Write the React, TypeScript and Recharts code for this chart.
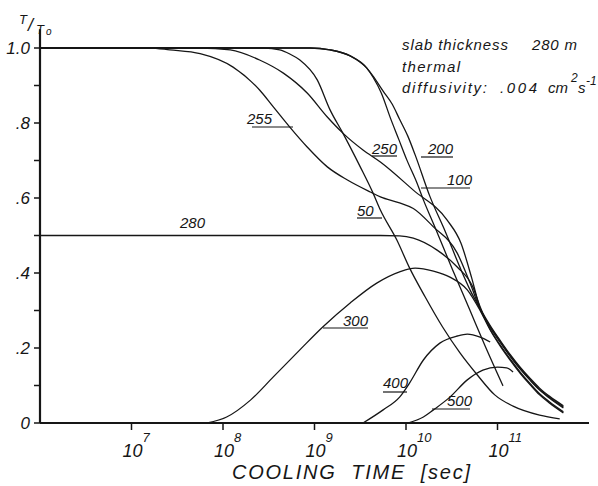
import { LineChart, Line, XAxis, YAxis } from "recharts"

const logT50 = [6, 8.45, 8.62, 8.73, 8.84, 9.03, 9.17, 9.31, 9.5, 9.64, 9.72, 9.9, 10.04, 10.21, 10.4, 10.59, 10.78, 10.97, 11.17, 11.46, 11.68]
const temp50 = [1, 1, 0.995, 0.984, 0.968, 0.915, 0.835, 0.773, 0.683, 0.613, 0.568, 0.488, 0.413, 0.336, 0.256, 0.187, 0.128, 0.075, 0.045, 0.021, 0.011]

const logT100 = [6, 8.95, 9.17, 9.39, 9.57, 9.64, 9.73, 9.83, 9.92, 10.01, 10.12, 10.19, 10.32, 10.51, 10.7, 10.86, 11.06]
const temp100 = [1, 1, 0.995, 0.979, 0.947, 0.922, 0.88, 0.813, 0.757, 0.701, 0.64, 0.595, 0.52, 0.408, 0.3, 0.208, 0.099]

const logT200 = [6, 8.95, 9.17, 9.39, 9.57, 9.64, 9.75, 9.85, 9.93, 10.02, 10.1, 10.26, 10.43, 10.59, 10.7, 10.81, 10.92, 11.03, 11.14, 11.25, 11.36, 11.46, 11.57, 11.72]
const temp200 = [1, 1, 0.995, 0.979, 0.947, 0.925, 0.885, 0.85, 0.81, 0.765, 0.715, 0.605, 0.51, 0.415, 0.355, 0.305, 0.26, 0.22, 0.182, 0.148, 0.118, 0.093, 0.071, 0.046]

const logT250 = [6, 7.75, 8.08, 8.4, 8.66, 8.92, 9.14, 9.31, 9.53, 9.72, 10.08, 10.45, 10.6, 10.72, 10.81, 10.92, 11.03, 11.14, 11.25, 11.36, 11.46, 11.57, 11.72]
const temp250 = [1, 1, 0.995, 0.968, 0.933, 0.88, 0.816, 0.773, 0.728, 0.696, 0.621, 0.541, 0.48, 0.385, 0.305, 0.257, 0.217, 0.179, 0.145, 0.115, 0.09, 0.068, 0.043]

const logT255 = [6, 7.2, 7.42, 7.75, 8.11, 8.4, 8.55, 8.73, 8.92, 9.14, 9.36, 9.61, 9.72, 9.93, 10.08, 10.3, 10.56, 10.7, 10.81, 10.92, 11.03, 11.14, 11.25, 11.36, 11.46, 11.57, 11.72]
const temp255 = [1, 1, 0.995, 0.985, 0.949, 0.888, 0.843, 0.789, 0.736, 0.683, 0.648, 0.616, 0.603, 0.587, 0.572, 0.523, 0.453, 0.373, 0.303, 0.255, 0.215, 0.177, 0.143, 0.113, 0.088, 0.066, 0.04]

const logT280 = [6, 9.72, 9.93, 10.08, 10.34, 10.56, 10.73, 10.81, 10.92, 11.03, 11.14, 11.25, 11.36, 11.46, 11.57, 11.72]
const temp280 = [0.5, 0.5, 0.499, 0.493, 0.461, 0.416, 0.363, 0.31, 0.25, 0.208, 0.17, 0.135, 0.104, 0.078, 0.056, 0.03]

const logT300 = [7.83, 8.04, 8.3, 8.55, 8.84, 9.09, 9.39, 9.68, 9.93, 10.1, 10.3, 10.48, 10.67, 10.81, 10.92, 11.03, 11.14, 11.25, 11.36, 11.46, 11.57, 11.72]
const temp300 = [0, 0.016, 0.061, 0.123, 0.195, 0.256, 0.32, 0.373, 0.403, 0.413, 0.405, 0.389, 0.355, 0.3, 0.248, 0.205, 0.167, 0.132, 0.101, 0.075, 0.053, 0.027]

const logT400 = [9.53, 9.75, 9.93, 10.04, 10.19, 10.37, 10.56, 10.67, 10.81, 10.92]
const temp400 = [0, 0.035, 0.069, 0.107, 0.168, 0.213, 0.232, 0.237, 0.229, 0.216]

const logT500 = [10.02, 10.19, 10.3, 10.48, 10.67, 10.84, 11.0, 11.1, 11.17]
const temp500 = [0, 0.016, 0.035, 0.069, 0.115, 0.141, 0.149, 0.147, 0.136]

const depths = ["50", "100", "200", "250", "255", "280", "300", "400", "500"]
const times = [logT50, logT100, logT200, logT250, logT255, logT280, logT300, logT400, logT500]
const temps = [temp50, temp100, temp200, temp250, temp255, temp280, temp300, temp400, temp500]

const xTicks = [7, 8, 9, 10, 11]
const yTicks = [0, 0.1, 0.2, 0.3, 0.4, 0.5, 0.6, 0.7, 0.8, 0.9, 1.0]
const yLabels: Record<number, string> = { 0: "0", 2: ".2", 4: ".4", 6: ".6", 8: ".8", 10: "1.0" }

const ink = "#161616"
const font = "'Liberation Sans', Arial, sans-serif"

const series = depths.map((d, i) => ({
  name: d,
  data: times[i].map((x, j) => ({ x, y: temps[i][j] })),
}))

function YTick(props: any) {
  const label = yLabels[Math.round(props.payload.value * 10)]
  if (!label) return <g />
  return (
    <text x={props.x - 2} y={props.y} dy={6} textAnchor="end" fontFamily={font} fontStyle="italic" fontSize={17} fill={ink}>
      {label}
    </text>
  )
}

function XTick(props: any) {
  return (
    <text x={props.x - 9} y={props.y} dy={25} fontFamily={font} fontStyle="italic" fill={ink}>
      <tspan fontSize={18}>10</tspan>
      <tspan fontSize={13} dy={-15}>{props.payload.value}</tspan>
    </text>
  )
}

// curve labels: text, text x, baseline, underline x1, x2, y
const curveLabels: [string, number, number, number, number, number][] = [
  ["255", 247, 124, 252, 293, 127],
  ["280", 180, 228, 0, 0, 0],
  ["250", 372, 154, 372, 397, 156],
  ["200", 428, 154, 421, 453, 157],
  ["100", 447, 185, 421, 470, 188],
  ["50", 357, 216, 357, 382, 218],
  ["300", 343, 326, 323, 368, 328],
  ["400", 383, 388, 383, 407, 392],
  ["500", 447, 406, 432, 470, 409],
]

function Overlay() {
  const t = { fontFamily: font, fontStyle: "italic" as const, fill: ink }
  return (
    <svg width={598} height={486} style={{ position: "absolute", left: 0, top: 0, pointerEvents: "none" }}>
      <text x={19} y={24} fontSize={13} {...t}>T</text>
      <text x={28} y={31} fontSize={18} {...t}>/</text>
      <text x={36} y={34} fontSize={13} {...t}>T</text>
      <text x={46} y={35} fontSize={10} {...t}>o</text>

      <text x={402} y={50} fontSize={15} textLength={106} lengthAdjust="spacing" {...t}>slab thickness</text>
      <text x={532} y={50} fontSize={15} textLength={45} lengthAdjust="spacing" {...t}>280 m</text>
      <text x={402} y={72} fontSize={15} textLength={58} lengthAdjust="spacing" {...t}>thermal</text>
      <text x={402} y={93} fontSize={15} textLength={85} lengthAdjust="spacing" {...t}>diffusivity:</text>
      <text x={500} y={93} fontSize={15} textLength={37} lengthAdjust="spacing" {...t}>.004</text>
      <text x={548} y={93} fontSize={15} {...t}>cm</text>
      <text x={571} y={82} fontSize={12} {...t}>2</text>
      <text x={578} y={93} fontSize={15} {...t}>s</text>
      <text x={586} y={85} fontSize={12} {...t}>-1</text>

      {curveLabels.map(([s, tx, ty, x1, x2, ly]) => (
        <g key={s}>
          <text x={tx} y={ty} fontSize={15} {...t}>{s}</text>
          {x2 > 0 && <line x1={x1} x2={x2} y1={ly} y2={ly} stroke={ink} strokeWidth={1.2} />}
        </g>
      ))}

      <text x={232} y={479} fontSize={20} textLength={238} lengthAdjust="spacing" style={{ whiteSpace: "pre" }} {...t}>
        {"COOLING  TIME  [sec]"}
      </text>
    </svg>
  )
}

export default function App() {
  return (
    <div style={{ position: "absolute", left: 0, top: 0, width: 598, height: 486, background: "#fff" }}>
      <LineChart width={598} height={486} margin={{ top: 29.25, right: 9, left: 10, bottom: 23 }}>
        <XAxis
          dataKey="x"
          type="number"
          domain={[6, 12]}
          ticks={xTicks}
          allowDataOverflow
          height={40}
          tickSize={7}
          tickMargin={2}
          axisLine={{ stroke: ink, strokeWidth: 2.2 }}
          tickLine={{ stroke: ink, strokeWidth: 1.5 }}
          tick={(p: any) => <XTick {...p} />}
        />
        <YAxis
          type="number"
          domain={[0, 1.05]}
          ticks={yTicks}
          allowDataOverflow
          width={30}
          tickSize={6}
          tickMargin={2}
          axisLine={{ stroke: ink, strokeWidth: 2.2 }}
          tickLine={{ stroke: ink, strokeWidth: 1.5 }}
          tick={(p: any) => <YTick {...p} />}
        />
        {series.map((s) => (
          <Line
            key={s.name}
            data={s.data}
            dataKey="y"
            type="monotone"
            stroke={ink}
            strokeWidth={1.3}
            dot={false}
            activeDot={false}
            isAnimationActive={false}
          />
        ))}
      </LineChart>
      <Overlay />
    </div>
  )
}
